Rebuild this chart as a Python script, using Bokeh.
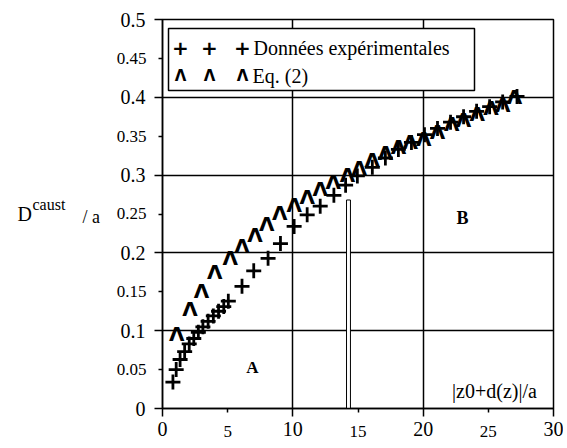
from bokeh.plotting import figure
from bokeh.models import FixedTicker, Label, BoxAnnotation, ColumnDataSource, Range1d
from bokeh.core.properties import value
from bokeh.embed import file_html
from bokeh.resources import INLINE

# ---- data ----
exp_x = [0.8, 1.05, 1.35, 1.7, 2.05, 2.4, 2.75, 3.1, 3.5, 3.9, 4.3, 4.7, 5.05, 6.1, 7.0, 8.1,
         9.05, 10.1, 11.1, 12.1, 13.15, 14.05, 14.95, 16.1, 17.1, 18.1, 19.1, 20.1, 21.1,
         22.1, 23.1, 24.1, 25.1, 26.1, 27.2]
exp_y = [0.034, 0.05, 0.063, 0.073, 0.083, 0.09, 0.098, 0.105, 0.112, 0.119, 0.125, 0.131,
         0.138, 0.157, 0.177, 0.193, 0.212, 0.234, 0.249, 0.26, 0.274, 0.287, 0.299, 0.31,
         0.322, 0.333, 0.342, 0.352, 0.36, 0.368, 0.375, 0.382, 0.388, 0.394, 0.401]
eq_x = [0.0, 1.1, 2.1, 3.0, 4.0, 5.2, 6.1, 7.1, 8.0, 9.0, 10.1, 11.1, 12.1, 13.1, 14.2, 15.1,
        16.1, 17.1, 18.1, 19.0, 20.05, 21.1, 22.2, 23.1, 24.15, 25.2, 26.1, 27.0]
eq_y = [0.0, 0.105, 0.137, 0.160, 0.185, 0.202, 0.218, 0.232, 0.246, 0.26, 0.27, 0.281,
        0.291, 0.30, 0.309, 0.318, 0.328, 0.337, 0.345, 0.352, 0.356, 0.365, 0.375, 0.38,
        0.388, 0.395, 0.399, 0.41]
bar_left = [14.12]
bar_right = [14.42]
bar_bottom = [0.0]
bar_top = [0.268]

x_major = [0, 10, 20, 30]
x_minor = [5, 15, 25]
y_major = [0, 0.1, 0.2, 0.3, 0.4, 0.5]
y_minor = [0.05, 0.15, 0.25, 0.35, 0.45]
y_major_labels = ["0", "0.1", "0.2", "0.3", "0.4", "0.5"]
y_minor_labels = ["0.05", "0.15", "0.25", "0.35", "0.45"]
x_minor_labels = ["5", "15", "25"]

SERIF = "Liberation Serif"

# frame geometry on the page (pixels)
FL, FR, FT, FB = 162, 553, 19, 408
W, H = 563, 446
p = figure(width=W, height=H, x_range=Range1d(0, 30), y_range=Range1d(0, 0.5),
           output_backend="svg", toolbar_location=None,
           min_border_left=FL, min_border_right=W - FR, min_border_top=FT,
           min_border_bottom=H - FB)
p.background_fill_color = "white"
p.border_fill_color = "white"
p.outline_line_color = "black"
p.outline_line_width = 1.5
p.outline_line_alpha = 1.0

def dx(px):
    return (px - FL) / (FR - FL) * 30
def dy(py):
    return (FB - py) / (FB - FT) * 0.5
def cx(xv):
    return FL + xv / 30 * (FR - FL)
def cy(yv):
    return FB - yv / 0.5 * (FB - FT)

for ax in (p.xaxis[0], p.yaxis[0]):
    ax.axis_line_color = "black"
    ax.axis_line_width = 1.5
    ax.major_tick_line_color = "black"
    ax.major_tick_line_width = 1.5
    ax.minor_tick_line_color = "black"
    ax.minor_tick_line_width = 1.5
    ax.major_tick_in = 0
    ax.minor_tick_in = 0
    ax.major_tick_out = 8
    ax.minor_tick_out = 4
    ax.major_label_text_font = SERIF
    ax.major_label_text_font_size = "20px"
    ax.major_label_text_color = "black"

p.xaxis.ticker = FixedTicker(ticks=x_major, minor_ticks=x_minor)
p.yaxis.ticker = FixedTicker(ticks=y_major, minor_ticks=y_minor)
p.yaxis.major_label_overrides = {t: s for t, s in zip(y_major, y_major_labels)}
p.xaxis.major_label_standoff = 5
p.yaxis.major_label_standoff = 9

p.xgrid.ticker = FixedTicker(ticks=x_major[1:-1])
p.ygrid.ticker = FixedTicker(ticks=y_major[1:-1])
for g in (p.xgrid[0], p.ygrid[0]):
    g.grid_line_color = "black"
    g.grid_line_width = 1.5
    g.grid_line_alpha = 1.0

# minor y tick labels: one multi-line label, in the left side panel (canvas pixels)
minor_text = "\n".join(reversed(y_minor_labels))
p.add_layout(Label(x=146, y=(cy(y_minor[0]) + cy(y_minor[-1])) / 2,
                   x_units="canvas", y_units="canvas", text=minor_text,
                   text_font=SERIF, text_font_size="17px", text_line_height=4.10,
                   text_align="right", text_baseline="middle", text_color="black"), "left")
# minor x tick labels
for t, s in zip(x_minor, x_minor_labels):
    p.add_layout(Label(x=cx(t), y=431, x_units="canvas", y_units="canvas",
                       text=s, text_font=SERIF, text_font_size="17px",
                       text_align="center", text_baseline="middle", text_color="black"), "left")

# vertical bar
p.quad(left=bar_left, right=bar_right, bottom=bar_bottom, top=bar_top,
       fill_color="white", line_color="black", line_width=1)

# data
src_exp = ColumnDataSource(dict(x=exp_x, y=exp_y))
src_eq = ColumnDataSource(dict(x=eq_x, y=eq_y))
p.text(x="x", y="y", source=src_eq, text=value("Λ"), text_font=value("DejaVu Sans"),
       text_font_size="20px", text_font_style="bold", text_align="center",
       text_baseline="alphabetic", y_offset=7, text_color="black")
p.scatter(x="x", y="y", source=src_exp, marker="cross", size=15, line_width=2.8,
          line_color="black")

# legend (manual)
p.add_layout(BoxAnnotation(left=dx(168), right=dx(474), top=dy(28), bottom=dy(90),
                           fill_color="white", fill_alpha=1.0, line_color="black",
                           line_width=1.5, line_alpha=1.0))
for mx in (180, 209, 242):
    p.add_layout(Label(x=dx(mx), y=dy(47), text="+", text_font="DejaVu Sans",
                       text_font_style="bold", text_font_size="20px", text_align="center",
                       text_baseline="middle", text_color="black"))
    p.add_layout(Label(x=dx(mx), y=dy(75), text="Λ", text_font="DejaVu Sans",
                       text_font_style="bold", text_font_size="15px", text_align="center",
                       text_baseline="middle", text_color="black"))
p.add_layout(Label(x=dx(253), y=dy(47), text="Données expérimentales", text_font=SERIF,
                   text_font_size="20px", text_align="left", text_baseline="middle",
                   text_color="black"))
p.add_layout(Label(x=dx(252), y=dy(75), text="Eq. (2)", text_font=SERIF,
                   text_font_size="20px", text_align="left", text_baseline="middle",
                   text_color="black"))

# region labels
p.add_layout(Label(x=dx(252), y=dy(367), text="A", text_font=SERIF, text_font_style="bold",
                   text_font_size="17px", text_align="center", text_baseline="middle",
                   text_color="black"))
p.add_layout(Label(x=dx(462), y=dy(217), text="B", text_font=SERIF, text_font_style="bold",
                   text_font_size="18px", text_align="center", text_baseline="middle",
                   text_color="black"))

# x axis title inside plot
p.add_layout(Label(x=dx(494), y=dy(390), text="|z0+d(z)|/a", text_font=SERIF,
                   text_font_size="20px", text_align="center", text_baseline="middle",
                   text_color="black"))

# y axis title (canvas pixels, side panels)
p.add_layout(Label(x=17, y=213, x_units="canvas", y_units="canvas", text="D",
                   text_font=SERIF, text_font_size="20px", text_color="black",
                   text_align="left", text_baseline="alphabetic"), "left")
p.add_layout(Label(x=32, y=204, x_units="canvas", y_units="canvas", text="caust",
                   text_font=SERIF, text_font_size="16px", text_color="black",
                   text_align="left", text_baseline="alphabetic"), "above")
p.add_layout(Label(x=82, y=216, x_units="canvas", y_units="canvas", text="/ a",
                   text_font=SERIF, text_font_size="18px", text_color="black",
                   text_align="left", text_baseline="alphabetic"), "left")

open("out.html", "w").write(file_html(p, INLINE))
